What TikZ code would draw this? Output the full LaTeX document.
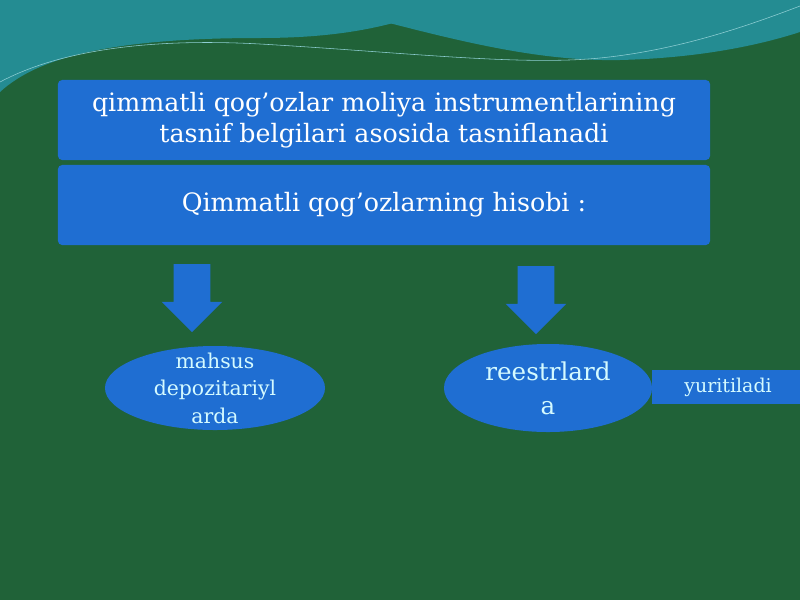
\documentclass[tikz,border=0pt]{standalone}
\usepackage{fontspec}
\setmainfont{DejaVu Serif}
\usepackage{tikz}
\usetikzlibrary{shapes.geometric,shapes.arrows}
\definecolor{leafgreen}{RGB}{32,98,56}
\definecolor{waveteal}{RGB}{36,140,146}
\definecolor{slideblue}{RGB}{31,110,210}
\definecolor{paletext}{RGB}{212,250,255}
\tikzstyle{headbox} = [fill=slideblue, rectangle, rounded corners=3pt,
    minimum width=16.3cm, minimum height=2cm, text=white, align=center,
    font=\fontsize{18}{22}\selectfont]
\tikzstyle{oval} = [fill=slideblue, ellipse, inner sep=0pt]
\tikzstyle{ovaltext} = [text=paletext, align=center]
\tikzstyle{downarrow} = [fill=slideblue, single arrow, shape border rotate=270,
    inner sep=0.45cm, single arrow head extend=0.3cm, minimum height=1.7cm]
\tikzstyle{sidebar} = [fill=slideblue, rectangle, minimum width=3.8cm,
    minimum height=0.83cm, text=paletext, font=\fontsize{13.5}{16}\selectfont]

\begin{document}
\begin{tikzpicture}[x=0.025cm,y=-0.025cm]
                \fill[leafgreen] (0,0) rectangle (800,600);
                \useasboundingbox (0,0) rectangle (800,600);
                \fill[waveteal] (0,0) -- (0,92) .. controls (40,55) and (120,38) .. (260,38)
                    .. controls (380,38) and (420,12) .. (470,0) -- cycle;
                \fill[waveteal] (300,0) .. controls (420,30) and (520,62) .. (620,60)
                    .. controls (700,58) and (760,45) .. (800,32) -- (800,0) -- cycle;
                \draw[paletext!60!waveteal, thin] (0,82) .. controls (60,50) and (150,38) .. (260,44)
                    .. controls (400,52) and (520,66) .. (600,58) .. controls (680,50) and (750,25) .. (800,6);
                \node[headbox] (kind) at (384,120) {qimmatli qog’ozlar moliya instrumentlarining\\tasnif belgilari asosida tasniflanadi};
                \node[headbox] (account) at (384,205) {Qimmatli qog’ozlarning hisobi :};
                \node[downarrow] (leftarrow) at (192,289) {};
                \node[downarrow] (rightarrow) at (536,291) {};
                \node[sidebar] (kept) at (728,387) {yuritiladi};
                \node[oval, minimum width=5.5cm, minimum height=2.1cm] (depo) at (215,388) {};
                \node[ovaltext, font=\fontsize{14.5}{19.5}\selectfont] at (depo) {mahsus\\depozitariyl\\arda};
                \node[oval, minimum width=5.2cm, minimum height=2.2cm] (registry) at (548,388) {};
                \node[ovaltext, font=\fontsize{17.5}{24}\selectfont] at (registry) {reestrlard\\a};
            \end{tikzpicture}
\end{document}
